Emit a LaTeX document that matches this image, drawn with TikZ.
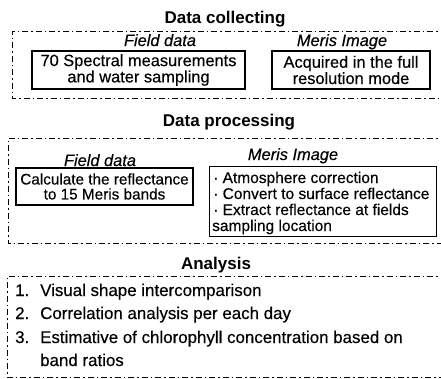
\documentclass[tikz,border=0pt]{standalone}
\usepackage{fontspec}
\setmainfont{Liberation Sans}
\newfontfamily\bodyf{Liberation Sans}[FakeBold=0.35]
\begin{document}
\begin{tikzpicture}[x=1pt,y=-1pt,
  every node/.style={font=\bodyf\fontsize{16.4}{15}\selectfont, inner sep=0pt},
  frame/.style={line width=0.9pt, dash pattern=on 6pt off 3pt on 1.5pt off 3pt},
  boxed/.style={draw, line width=1.3pt, align=center},
  title/.style={font=\fontsize{17}{17}\selectfont\bfseries, anchor=base},
  hdr/.style={font=\bodyf\fontsize{16.4}{15}\selectfont\itshape, anchor=base},
  item/.style={anchor=base west},
  mitem/.style={anchor=base west, font=\bodyf\fontsize{15.5}{15}\selectfont},
  aitem/.style={anchor=base west, font=\bodyf\fontsize{16.9}{17}\selectfont}]
\useasboundingbox (0,0) rectangle (441,378);
\clip (0,0) rectangle (441,378);
% Data collecting
\node[title] (t1) at (225,23) {Data collecting};
\draw[frame] (460,31) -- (12,31) -- (12,98) -- (460,98);
\node[hdr] (h1a) at (160,46) {Field data};
\node[hdr] (h1b) at (342,46) {Meris Image};
\node[boxed, minimum width=213pt, minimum height=38pt] (b1a) at (138.5,70) {70 Spectral measurements\\and water sampling};
\node[boxed, minimum width=158pt, minimum height=38pt] (b1b) at (351,70) {Acquired in the full\\resolution mode};
% Data processing
\node[title] (t2) at (229,126) {Data processing};
\draw[frame] (460,138) -- (8,138) -- (8,243) -- (460,243);
\node[hdr] (h2a) at (100,166) {Field data};
\node[hdr] (h2b) at (293,160) {Meris Image};
\node[boxed, minimum width=177pt, minimum height=37pt, font=\bodyf\fontsize{15.3}{15}\selectfont] (b2a) at (104.5,186.5) {Calculate the reflectance\\to 15 Meris bands};
\node[draw, line width=1.3pt, minimum width=227pt, minimum height=70pt, anchor=north west] (b2b) at (209,166) {};
\node[mitem] (m1) at (213,183) {·\ Atmosphere correction};
\node[mitem] (m2) at (213,199) {·\ Convert to surface reflectance};
\node[mitem] (m3) at (213,215) {·\ Extract reflectance at fields};
\node[mitem] (m4) at (212,231) {sampling location};
% Analysis
\node[title] (t3) at (216,269) {Analysis};
\draw[frame] (460,276) -- (7,276) -- (7,377) -- (460,377);
\node[aitem] (n1) at (15,296) {1.};
\node[aitem] (a1) at (40,296) {Visual shape intercomparison};
\node[aitem] (n2) at (15,319) {2.};
\node[aitem] (a2) at (40,319) {Correlation analysis per each day};
\node[aitem] (n3) at (15,343) {3.};
\node[aitem] (a3) at (40,343) {Estimative of chlorophyll concentration based on};
\node[aitem] (a4) at (40,366) {band ratios};
\end{tikzpicture}
\end{document}
